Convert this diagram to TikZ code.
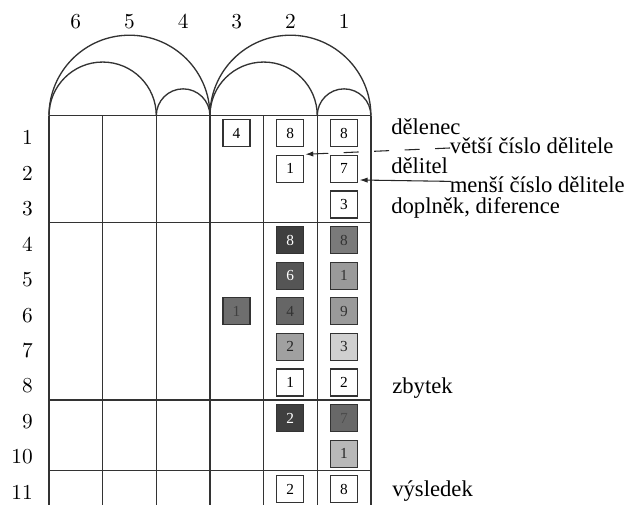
\documentclass[tikz,border=0pt]{standalone}
\usepackage{fontspec}
\newfontfamily\tnr{Liberation Serif}
\newfontfamily\lmten{lmroman10-regular.otf}
\usetikzlibrary{arrows.meta,calc}
\begin{document}
\begin{tikzpicture}[x=0.75pt,y=0.75pt,
  grid/.style={draw=black!80, line width=1pt},
  cell/.style={draw=black!80, line width=0.9pt, minimum size=20.25pt, inner sep=0pt, font=\tnr\fontsize{11.5}{12}\selectfont},
  lab/.style={font=\lmten\fontsize{16}{18}\selectfont, inner sep=0pt},
  note/.style={font=\tnr\fontsize{17}{19}\selectfont, inner sep=0pt, anchor=base west},
  pointer/.style={draw=black!85, line width=0.8pt, -{Latex[length=6pt,width=4pt]}}]
\useasboundingbox (0,0) rectangle (628,505);
% grid
\foreach \k in {0,...,6} \draw[grid] ({49+\k*53.65},389.3) -- ({49+\k*53.65},0);
\foreach \y in {389.3,282.7,105,34.3} \draw[grid] (49,\y) -- (370.9,\y);
% arcs
\draw[grid] (49,389.3) arc (180:0:60.356pt);
\draw[grid] (49,389.3) arc (180:0:40.2375pt);
\draw[grid] (156.3,389.3) arc (180:0:20.119pt);
\draw[grid] (209.95,389.3) arc (180:0:60.356pt);
\draw[grid] (209.95,389.3) arc (180:0:40.2375pt);
\draw[grid] (317.25,389.3) arc (180:0:20.119pt);
% column heads
\node[lab, anchor=base] (c6) at (75.8,476.2) {6};
\node[lab, anchor=base] (c5) at (129.5,476.2) {5};
\node[lab, anchor=base] (c4) at (183.1,476.2) {4};
\node[lab, anchor=base] (c3) at (236.8,476.2) {3};
\node[lab, anchor=base] (c2) at (290.4,476.2) {2};
\node[lab, anchor=base] (c1) at (344.1,476.2) {1};
% row labels
\foreach \i in {1,...,11} \node[lab, anchor=base east] (r\i) at (33,{360.2-(\i-1)*35.45}) {\i};
% boxes: name b<row>-<col>
\newcommand{\bx}[5]{\node[cell, fill=#4, text=#5] (b#1-#2) at ({#2==3 ? 236.5 : (#2==2 ? 290.2 : 344.0)},{371.7-(#1-1)*35.6}) {#3};}
\definecolor{g1}{HTML}{3F3F3F}
\definecolor{g2}{HTML}{7A7A7A}
\definecolor{g3}{HTML}{555555}
\definecolor{g4}{HTML}{9A9A9A}
\definecolor{g5}{HTML}{6E6E6E}
\definecolor{g6}{HTML}{666666}
\definecolor{g7}{HTML}{A0A0A0}
\definecolor{g8}{HTML}{D0D0D0}
\definecolor{g9}{HTML}{686868}
\definecolor{g10}{HTML}{B8B8B8}
\bx{1}{3}{4}{white}{black}
\bx{1}{2}{8}{white}{black}
\bx{1}{1}{8}{white}{black}
\bx{2}{2}{1}{white}{black}
\bx{2}{1}{7}{white}{black}
\bx{3}{1}{3}{white}{black}
\bx{4}{2}{8}{g1}{white}
\bx{4}{1}{8}{g2}{black!80}
\bx{5}{2}{6}{g3}{white}
\bx{5}{1}{1}{g4}{black!80}
\bx{6}{3}{1}{g5}{black!75}
\bx{6}{2}{4}{g6}{black!80}
\bx{6}{1}{9}{g4}{black!80}
\bx{7}{2}{2}{g7}{black!85}
\bx{7}{1}{3}{g8}{black!85}
\bx{8}{2}{1}{white}{black}
\bx{8}{1}{2}{white}{black}
\bx{9}{2}{2}{g1}{white}
\bx{9}{1}{7}{g9}{black!70}
\bx{10}{1}{1}{g10}{black!85}
\bx{11}{2}{2}{white}{black}
\bx{11}{1}{8}{white}{black}
% notes
\node[note] (delenec) at (391,370) {dělenec};
\node[note] (vetsi) at (449.5,351.7) {větší číslo dělitele};
\node[note] (delitel) at (391,331.5) {dělitel};
\node[note] (mensi) at (449.5,312.3) {menší číslo dělitele};
\node[note] (doplnek) at (391,291.7) {doplněk, diference};
\node[note] (zbytek) at (392,111.7) {zbytek};
\node[note] (vysledek) at (392,8.3) {výsledek};
% pointers
\coordinate (vs) at ($(vetsi.base west)+(0.5,5.3)$);
\coordinate (ms) at ($(mensi.base west)+(1.5,11.3)$);
\draw[pointer, dash pattern=on 11.25pt off 11.6pt] (vs) -- ($(b2-2.north east)+(1,0.5)$);
\draw[pointer] (ms) -- ($(b2-1.south east)+(1.5,3)$);
\end{tikzpicture}
\end{document}
